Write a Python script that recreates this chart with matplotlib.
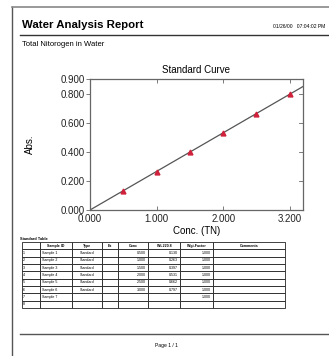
import matplotlib.pyplot as plt
import numpy as np

plt.rcParams['font.family'] = ['Liberation Sans', 'DejaVu Sans']

# standard curve data
conc = [0.5, 1.0, 1.5, 2.0, 2.5, 3.0]
absorb = [0.130, 0.263, 0.397, 0.531, 0.662, 0.797]
xtick_pos = [0, 1, 2, 3]
xtick_labels = ['0.000', '1.000', '2.000', '3.200']
ytick_pos = [0.0, 0.2, 0.4, 0.6, 0.8, 0.9]

# standard table
col_names = ['', 'Sample ID', 'Type', 'Ex', 'Conc', 'WL220.8', 'Wgt.Factor', 'Comments']
row_no = ['1', '2', '3', '4', '5', '6', '7', '8']
sample_ids = ['Sample 1', 'Sample 2', 'Sample 3', 'Sample 4', 'Sample 5', 'Sample 6', 'Sample 7', '']
types = ['Standard'] * 6 + ['', '']
conc_txt = ['0.500', '1.000', '1.500', '2.000', '2.500', '3.000', '', '']
abs_txt = ['0.130', '0.263', '0.397', '0.531', '0.662', '0.797', '', '']
wgt_txt = ['1.000'] * 7 + ['']

W, H = 329, 356
fig = plt.figure(figsize=(W / 100, H / 100), dpi=100)
fig.patch.set_facecolor('white')

def fx(px):
    return px / W

def fy(py):
    return 1 - py / H

# page border and header
fig.add_artist(plt.Line2D([fx(12), fx(12)], [fy(7), 0], color='#555555', lw=1.0))
fig.add_artist(plt.Line2D([fx(12), 1], [fy(7), fy(7)], color='#888888', lw=1.2))
fig.text(fx(22), fy(25), 'Water Analysis Report', fontsize=8.2, fontweight='bold', va='center')
fig.text(fx(325), fy(27), '01/26/00   07:04:02 PM', fontsize=3.6, ha='right', va='center')
fig.add_artist(plt.Line2D([fx(20), 1], [fy(35), fy(35)], color='#333333', lw=1.0))
fig.text(fx(22), fy(45), 'Total Nitorogen in Water', fontsize=5.5, va='center')

# chart
ax = fig.add_axes([fx(90), fy(210), fx(303) - fx(90), fy(79) - fy(210)])
slope = np.sum(np.array(conc) * np.array(absorb)) / np.sum(np.array(conc) ** 2)
xs = np.array([0, 3.2])
ax.plot(xs, slope * xs, color='#555555', lw=0.9)
ax.plot(conc, absorb, '^', color='#d0213b', ms=3.5, mec='#d0213b')
ax.set_xlim(0, 3.2)
ax.set_ylim(0, 0.9)
ax.set_xticks(xtick_pos)
ax.set_xticklabels(xtick_labels)
ax.set_yticks(ytick_pos)
ax.set_yticklabels(['%.3f' % v for v in ytick_pos])
ax.tick_params(axis='x', direction='in', top=True, length=3, width=0.6, colors='#666666',
               labelcolor='#222222', labelsize=7, pad=3)
ax.tick_params(axis='y', direction='out', length=3, width=0.6, colors='#666666',
               labelcolor='#222222', labelsize=7, pad=1)
for v in ytick_pos[1:-1]:
    ax.plot([3.2 - 0.06, 3.2], [v, v], color='#666666', lw=0.6, clip_on=False)
for s in ax.spines.values():
    s.set_color('#666666')
    s.set_linewidth(0.9)
ax.set_title('Standard Curve', fontsize=7, pad=4)
ax.set_xlabel('Conc. (TN)', fontsize=7, labelpad=1)
ax.set_ylabel('Abs.', fontsize=7, labelpad=18)

# standard table
fig.text(fx(20), fy(239), 'Standard Table', fontsize=2.8, fontweight='bold', va='center')
cells = [[row_no[i], sample_ids[i], types[i], '', conc_txt[i], abs_txt[i], wgt_txt[i], '']
         for i in range(len(row_no))]
col_px = [22, 40, 72, 102, 118, 148, 180, 213, 285]
widths = [(col_px[i + 1] - col_px[i]) / (col_px[-1] - col_px[0]) for i in range(len(col_names))]
tax = fig.add_axes([fx(22), fy(308), fx(285) - fx(22), fy(242) - fy(308)])
tax.axis('off')
tbl = tax.table(cellText=cells, colLabels=col_names, colWidths=widths,
                loc='center', bbox=[0, 0, 1, 1])
tbl.auto_set_font_size(False)
tbl.set_fontsize(2.6)
for (r, c), cell in tbl.get_celld().items():
    cell.set_linewidth(0.6)
    cell.set_edgecolor('#222222')
    cell.PAD = 0.06
    txt = cell.get_text()
    if r == 0:
        txt.set_fontweight('bold')
        txt.set_ha('center')
    elif c in (4, 5, 6):
        txt.set_ha('right')
    elif c == 2:
        txt.set_ha('center')
    else:
        txt.set_ha('left')

# footer
fig.add_artist(plt.Line2D([fx(20), 1], [fy(334), fy(334)], color='#555555', lw=1.0))
fig.text(fx(166), fy(345), 'Page 1 / 1', fontsize=3.6, ha='center', va='center')

fig.savefig('out.png', dpi=100)
